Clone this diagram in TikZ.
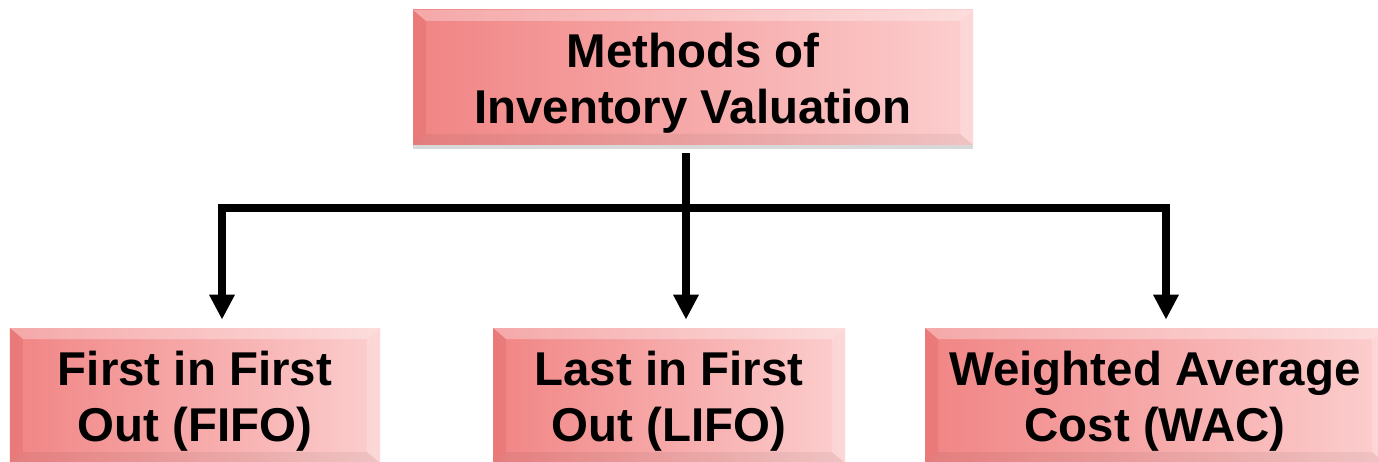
\documentclass[tikz,border=0pt]{standalone}
\usepackage{fontspec}
\setmainfont{Liberation Sans}
\usetikzlibrary{arrows.meta,shadows}

\definecolor{pinkdark}{RGB}{241,132,132}
\definecolor{pinklight}{RGB}{252,206,206}
\pgfdeclarehorizontalshading{backdrop}{100bp}{color(0bp)=(black!19); color(22bp)=(white); color(80bp)=(white); color(100bp)=(black!19)}

\begin{document}
\begin{tikzpicture}[
    method/.style={minimum width=#1, minimum height=2.7cm, inner sep=0pt,
      left color=pinkdark, right color=pinklight,
      drop shadow={opacity=0.3, shadow xshift=0pt, shadow yshift=-0.09cm},
      path picture={
        % bevelled rim: light top and right, dark left and bottom
        \fill[white,opacity=0.3] (path picture bounding box.north west) -- (path picture bounding box.north east)
          -- ([shift={(-0.26,-0.22)}]path picture bounding box.north east) -- ([shift={(0.26,-0.22)}]path picture bounding box.north west) -- cycle;
        \fill[white,opacity=0.2] (path picture bounding box.north east) -- (path picture bounding box.south east)
          -- ([shift={(-0.26,0.22)}]path picture bounding box.south east) -- ([shift={(-0.26,-0.22)}]path picture bounding box.north east) -- cycle;
        \fill[red!60!black,opacity=0.08] (path picture bounding box.north west) -- (path picture bounding box.south west)
          -- ([shift={(0.26,0.22)}]path picture bounding box.south west) -- ([shift={(0.26,-0.22)}]path picture bounding box.north west) -- cycle;
        \fill[black,opacity=0.05] (path picture bounding box.south west) -- (path picture bounding box.south east)
          -- ([shift={(-0.26,0.22)}]path picture bounding box.south east) -- ([shift={(0.26,0.22)}]path picture bounding box.south west) -- cycle;
      }},
    caption/.style={label={[yshift=-0.12cm, align=center, inner sep=0pt,
      font=\bfseries\fontsize{27}{32}\selectfont]center:#1}},
    link/.style={line width=4.5pt, line join=miter, shorten <=0.16cm, shorten >=0.16cm},
    tip/.tip={Triangle[width=0.48cm,length=0.5cm]}
  ]
  \useasboundingbox (0,0) rectangle (27.56,-9.24);
  \shade[shading=backdrop] (0,0) rectangle (27.56,-9.24);

  \node[method=11.2cm, caption={Methods of\\Inventory Valuation}] (methods) at (13.86,-1.55) {};
  \node[method=7.4cm, caption={First in First\\Out (FIFO)}] (fifo) at (3.9,-7.91) {};
  \node[method=7.04cm, caption={Last in First\\Out (LIFO)}] (lifo) at (13.38,-7.91) {};
  \node[method=9.2cm, caption={Weighted Average\\Cost (WAC)}] (wac) at (23.1,-7.91) {};

  % branch points on the bar
  \coordinate (barL) at (4.44,-4.16);
  \coordinate (barM) at (13.72,-4.16);
  \coordinate (barR) at (23.32,-4.16);

  \draw[link,tip-tip] (fifo.north -| barL) -- (barL) -- (barR) -- (wac.north -| barR);
  \draw[link,-tip] (methods.south -| barM) -- (lifo.north -| barM);
\end{tikzpicture}
\end{document}
